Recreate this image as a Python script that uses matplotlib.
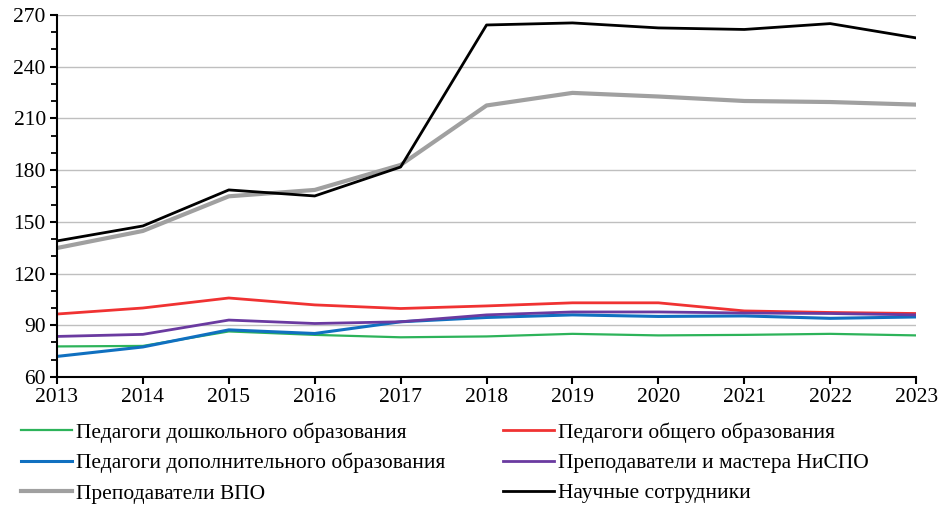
import numpy as np
import matplotlib.pyplot as plt
from matplotlib.ticker import MultipleLocator

plt.rcParams['font.family'] = ['Liberation Serif', 'DejaVu Serif']

years = list(range(2013, 2024))
preschool = [77.7, 78.0, 86.4, 84.4, 83.0, 83.5, 85.0, 84.1, 84.4, 85.0, 84.1]
general = [96.5, 100.0, 105.8, 101.8, 99.7, 101.2, 103.0, 103.0, 98.3, 97.4, 96.8]
additional = [71.9, 77.4, 87.3, 85.2, 92.0, 94.5, 96.0, 95.1, 95.4, 94.0, 94.8]
vocational = [83.5, 84.7, 93.0, 91.0, 92.0, 96.0, 97.7, 97.7, 97.1, 96.8, 96.0]
university = [134.8, 144.7, 164.8, 168.5, 183.0, 217.5, 224.8, 222.7, 220.1, 219.5, 218.0]
research = [138.9, 147.6, 168.5, 165.0, 181.8, 264.2, 265.4, 262.5, 261.6, 265.0, 256.7]

labels = ['Педагоги дошкольного образования', 'Педагоги общего образования',
          'Педагоги дополнительного образования', 'Преподаватели и мастера НиСПО',
          'Преподаватели ВПО', 'Научные сотрудники']

fig = plt.figure(figsize=(9.4, 5.08), dpi=100)
ax = fig.add_axes([0.0606, 0.258, 0.914, 0.7125])

ax.plot(years, preschool, color='#2db35a', lw=1.6, label=labels[0])
ax.plot(years, general, color='#f03232', lw=2.0, label=labels[1])
ax.plot(years, additional, color='#1070c0', lw=2.2, label=labels[2])
ax.plot(years, vocational, color='#6a3aa0', lw=2.0, label=labels[3])
ax.plot(years, university, color='#a0a0a0', lw=3.0, label=labels[4])
ax.plot(years, research, color='black', lw=2.0, label=labels[5])

ax.set_xlim(2013, 2023)
ax.set_ylim(60, 270)
ax.set_xticks(years)
ax.yaxis.set_major_locator(MultipleLocator(30))
ax.yaxis.set_minor_locator(MultipleLocator(10))
ax.grid(axis='y', color='#bfbfbf', lw=1.0)
ax.set_axisbelow(True)
for s in ['top', 'right']:
    ax.spines[s].set_visible(False)
for s in ['left', 'bottom']:
    ax.spines[s].set_linewidth(1.5)
ax.tick_params(axis='both', labelsize=15.5, width=1.5, length=5, direction='out', pad=3)
ax.tick_params(axis='y', which='minor', width=1.3, length=4)

h, l = ax.get_legend_handles_labels()
order = [0, 2, 4, 1, 3, 5]
fig.legend([h[i] for i in order], [l[i] for i in order], loc='upper left',
           bbox_to_anchor=(0.0223, 0.169), ncol=2, frameon=False, fontsize=15.5,
           handlelength=2.35, handletextpad=0.2, columnspacing=2.7,
           labelspacing=0.48, borderpad=0, borderaxespad=0)

fig.savefig('out.png', dpi=100)
